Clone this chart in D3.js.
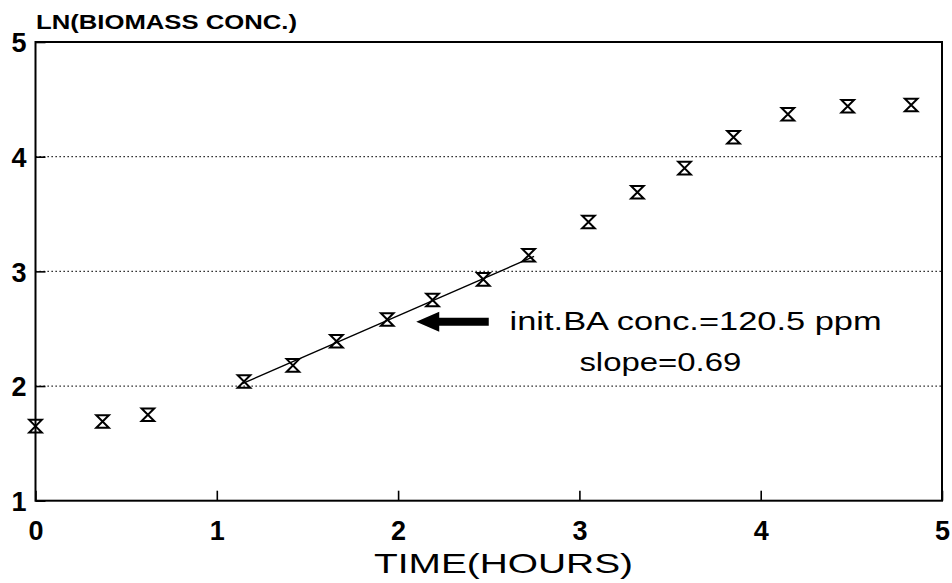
<!DOCTYPE html>
<html>
<head>
<meta charset="utf-8">
<script src="https://cdn.jsdelivr.net/npm/d3@7.9.0/dist/d3.min.js"></script>
<style>
  body { margin: 0; background: #fff; }
  svg { display: block; font-family: "Liberation Sans", Arial, Helvetica, sans-serif; }
</style>
</head>
<body>
<svg id="chart" width="952" height="583"></svg>
<script>
// --- data ---
const timeHours = [0, 0.37, 0.62, 1.15, 1.42, 1.66, 1.94, 2.19, 2.47, 2.72, 3.05, 3.32, 3.58, 3.85, 4.15, 4.48, 4.83];
const lnBiomass = [1.65, 1.69, 1.75, 2.04, 2.18, 2.39, 2.58, 2.75, 2.93, 3.14, 3.43, 3.69, 3.90, 4.17, 4.37, 4.44, 4.45];

// fitted line through the exponential phase (slope 0.69)
const fitX = [1.14, 2.75];
const fitY = [2.02, 3.13];

const xTicks = [0, 1, 2, 3, 4, 5];
const yTicks = [1, 2, 3, 4, 5];
const gridValues = [2, 3, 4];

const yTitle = 'LN(BIOMASS CONC.)';
const xTitle = 'TIME(HOURS)';
const noteLines = ['init.BA conc.=120.5 ppm', 'slope=0.69'];

// --- layout ---
const W = 952, H = 583;
const margin = { top: 42, right: 10, bottom: 82.3, left: 35.5 };

const svg = d3.select('#chart');

const x = d3.scaleLinear().domain([0, 5]).range([margin.left, W - margin.right]);
const y = d3.scaleLinear().domain([1, 5]).range([H - margin.bottom, margin.top]);

// dotted grid lines
svg.append('g')
  .selectAll('line')
  .data(gridValues)
  .join('line')
  .attr('x1', x(0))
  .attr('x2', x(5))
  .attr('y1', d => y(d))
  .attr('y2', d => y(d))
  .attr('stroke', '#000')
  .attr('stroke-width', 1.2)
  .attr('stroke-dasharray', '1.3,2.7');

// axes with inward ticks
const xAxis = svg.append('g')
  .attr('transform', `translate(0,${y(1)})`)
  .call(d3.axisBottom(x).tickValues(xTicks).tickFormat(d3.format('d')).tickSize(-10).tickPadding(20));

const yAxis = svg.append('g')
  .attr('transform', `translate(${x(0)},0)`)
  .call(d3.axisLeft(y).tickValues(yTicks).tickFormat(d3.format('d')).tickSize(-10).tickPadding(9));

[xAxis, yAxis].forEach(g => {
  g.attr('font-size', null).attr('font-family', null);
  g.select('.domain').remove();
  g.selectAll('line').attr('stroke', '#000').attr('stroke-width', 1.6);
  g.selectAll('text')
    .attr('fill', '#000')
    .style('font-size', '27px')
    .style('font-weight', 'bold');
});
yAxis.selectAll('text').attr('dy', '0.36em');

// plot frame
svg.append('rect')
  .attr('x', x(0))
  .attr('y', y(5))
  .attr('width', x(5) - x(0))
  .attr('height', y(1) - y(5))
  .attr('fill', 'none')
  .attr('stroke', '#000')
  .attr('stroke-width', 2);

// fitted line
svg.append('line')
  .attr('x1', x(fitX[0]))
  .attr('y1', y(fitY[0]))
  .attr('x2', x(fitX[1]))
  .attr('y2', y(fitY[1]))
  .attr('stroke', '#000')
  .attr('stroke-width', 1.4);

// hourglass markers
const s = 6.3;
const hourglass = `M${-s},${-s}H${s}L${-s},${s}H${s}Z`;
svg.append('g')
  .selectAll('path')
  .data(timeHours.map((t, i) => ({ t, v: lnBiomass[i] })))
  .join('path')
  .attr('transform', d => `translate(${x(d.t)},${y(d.v)})`)
  .attr('d', hourglass)
  .attr('fill', 'none')
  .attr('stroke', '#000')
  .attr('stroke-width', 2)
  .attr('stroke-linejoin', 'miter');

// annotation arrow (pointing left at the fitted line)
const arrowTail = x(2.5), arrowTip = x(2.1), arrowY = y(2.56);
const headLen = 23, headHalf = 10, shaftHalf = 4;
svg.append('path')
  .attr('d', `M${arrowTip},${arrowY}
    L${arrowTip + headLen},${arrowY - headHalf}
    L${arrowTip + headLen},${arrowY - shaftHalf}
    L${arrowTail},${arrowY - shaftHalf}
    L${arrowTail},${arrowY + shaftHalf}
    L${arrowTip + headLen},${arrowY + shaftHalf}
    L${arrowTip + headLen},${arrowY + headHalf}Z`)
  .attr('fill', '#000');

// annotation text
svg.append('text')
  .attr('x', x(2.615))
  .attr('y', y(2.49))
  .attr('textLength', 372)
  .attr('lengthAdjust', 'spacingAndGlyphs')
  .style('font-size', '25px')
  .text(noteLines[0]);

svg.append('text')
  .attr('x', x(3.0))
  .attr('y', y(2.13))
  .attr('textLength', 162)
  .attr('lengthAdjust', 'spacingAndGlyphs')
  .style('font-size', '25px')
  .text(noteLines[1]);

// axis titles
svg.append('text')
  .attr('x', 36)
  .attr('y', 29)
  .attr('textLength', 261)
  .attr('lengthAdjust', 'spacingAndGlyphs')
  .style('font-size', '21px')
  .style('font-weight', 'bold')
  .text(yTitle);

svg.append('text')
  .attr('x', 374)
  .attr('y', 573)
  .attr('textLength', 259)
  .attr('lengthAdjust', 'spacingAndGlyphs')
  .style('font-size', '28px')
  .text(xTitle);
</script>
</body>
</html>
